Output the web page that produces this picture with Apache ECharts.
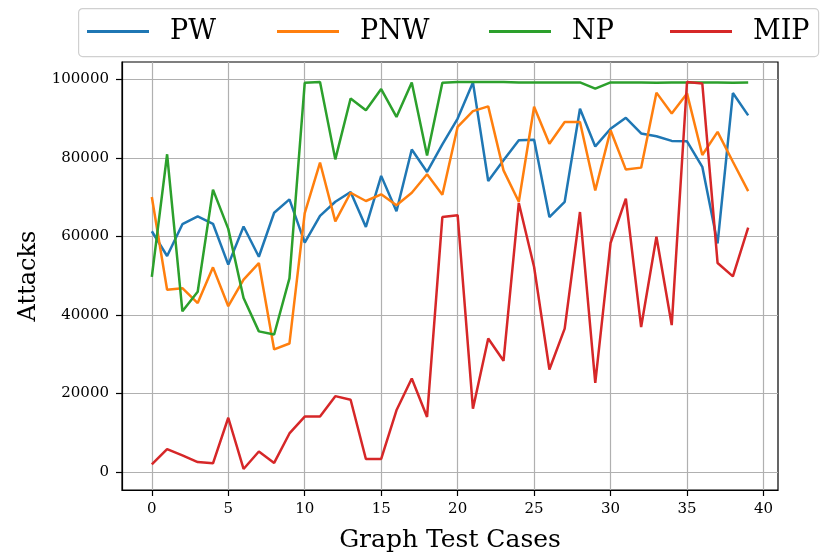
<!DOCTYPE html>
<html>
<head>
<meta charset="utf-8">
<script src="https://cdn.jsdelivr.net/npm/echarts@6/dist/echarts.min.js"></script>
<style>html,body{margin:0;padding:0;background:#fff}#c{width:820px;height:558px}</style>
</head>
<body>
<div id="c"></div>
<script>
const cases = [0,1,2,3,4,5,6,7,8,9,10,11,12,13,14,15,16,17,18,19,20,21,22,23,24,25,26,27,28,29,30,31,32,33,34,35,36,37,38,39];
const PW  = [61300,55000,63100,65100,63200,52800,62500,54800,66000,69400,58400,65200,68800,71300,62400,75400,66400,82100,76400,83400,90000,99200,74100,79400,84500,84600,64900,68800,92500,82900,87400,90200,86200,85500,84300,84200,77700,58200,96500,90800];
const PNW = [70000,46400,46800,43000,52100,42200,49000,53200,31200,32700,65900,78800,63800,71100,69000,70700,67900,71100,75800,70600,87900,91900,93100,76800,68800,93000,83600,89100,89100,71700,87000,77000,77500,96600,91300,96400,80700,86600,79000,71500];
const NP  = [49700,80900,40900,45900,71900,61900,44300,35800,35000,49300,99100,99300,79600,95100,92100,97500,90400,99200,80600,99100,99300,99300,99300,99300,99200,99200,99200,99200,99200,97600,99200,99200,99200,99100,99200,99200,99200,99200,99100,99200];
const MIP = [1900,5800,4200,2500,2200,13800,760,5200,2300,9800,14100,14100,19300,18400,3300,3300,15700,23800,14000,64900,65400,16100,34000,28300,68500,52200,26100,36500,66200,22700,58300,69600,36900,59900,37400,99300,98900,53200,49800,62200];
const xTicks = [0,5,10,15,20,25,30,35,40];
const yTicks = [0,20000,40000,60000,80000,100000];
const seriesNames = ['PW','PNW','NP','MIP'];
const seriesData = [PW, PNW, NP, MIP];
const colors = ['#1f77b4','#ff7f0e','#2ca02c','#d62728'];

const FONT = 'DejaVu Serif';
const chart = echarts.init(document.getElementById('c'), null, {renderer:'canvas'});
const legendLefts = [87, 277, 489, 670];
const option = {
  animation: false,
  color: colors,
  grid: {left:122, right:42, top:62, bottom:68, show:true, borderColor:'#000', borderWidth:1.2, backgroundColor:'transparent', outerBoundsMode:'none', containLabel:false},
  graphic: [{
    type:'rect', left:78, top:8, z:-1,
    shape:{width:740, height:48, r:4},
    style:{fill:'#fff', stroke:'#d0d0d0', lineWidth:1.2}
  }],
  legend: seriesNames.map((n,i)=>({
    data:[n], left:legendLefts[i], top:18, padding:0, icon:'rect', itemWidth:62, itemHeight:3,
    textStyle:{fontFamily:FONT, fontSize:27, color:'#000', padding:[0,0,0,16]},
    selectedMode:false
  })),
  xAxis: {
    type:'value', min:-1.95, max:40.95,
    name:'Graph Test Cases', nameLocation:'middle', nameGap:38,
    nameTextStyle:{fontFamily:FONT, fontSize:25, color:'#000'},
    axisLine:{show:true, onZero:false, lineStyle:{color:'#000', width:1.2}},
    axisTick:{show:true, length:6, customValues:xTicks, lineStyle:{color:'#000', width:1.2}},
    axisLabel:{customValues:xTicks, fontFamily:FONT, fontSize:15, color:'#000', margin:12},
    splitLine:{show:true, lineStyle:{color:'#b0b0b0', width:1.2}}
  },
  yAxis: {
    type:'value', min:-4600, max:104400,
    name:'Attacks', nameLocation:'middle', nameGap:80, nameRotate:90,
    nameTextStyle:{fontFamily:FONT, fontSize:24, color:'#000'},
    axisLine:{show:true, onZero:false, lineStyle:{color:'#000', width:1.2}},
    axisTick:{show:true, length:6, customValues:yTicks, lineStyle:{color:'#000', width:1.2}},
    axisLabel:{customValues:yTicks, fontFamily:FONT, fontSize:15, color:'#000', margin:13, formatter:v=>String(v)},
    splitLine:{show:true, lineStyle:{color:'#b0b0b0', width:1.2}}
  },
  series: seriesNames.map((n,i)=>({
    name:n, type:'line', symbol:'none',
    data: cases.map((x,j)=>[x, seriesData[i][j]]),
    lineStyle:{width:2.5, color:colors[i]},
    itemStyle:{color:colors[i]}
  }))
};
chart.setOption(option);
</script>
</body>
</html>
